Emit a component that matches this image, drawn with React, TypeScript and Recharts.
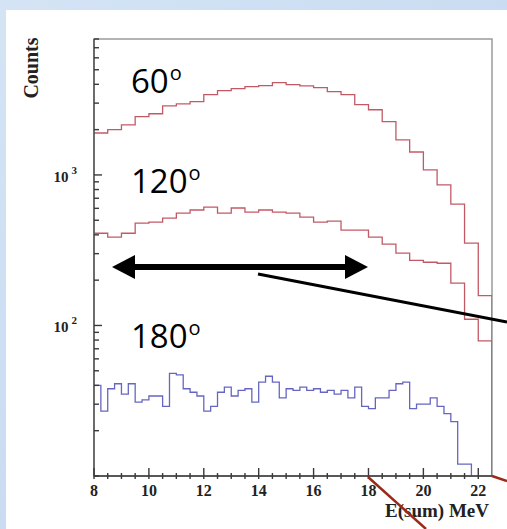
import { LineChart, Line, XAxis, YAxis, ReferenceArea } from "recharts";

// histogram bins (MeV)
const eStart = 8;
const redBinWidth = 0.5;
const blueBinWidth = 0.25;

// counts per bin
const counts60 = [
  1900, 2000, 2150, 2440, 2550, 2880, 2970, 3070, 3420, 3630, 3740, 3860, 3920, 4100, 3980,
  3900, 3800, 3575, 3415, 2930, 2710, 2260, 1710, 1420, 1080, 860, 640, 352, 158,
];
const counts120 = [
  410, 386, 410, 479, 486, 517, 558, 585, 612, 558, 603, 567, 585, 567, 558, 525, 486, 493, 430,
  430, 386, 347, 302, 271, 263, 259, 191, 110, 79,
];
const counts180 = [
  40, 27, 38, 41, 35, 41, 31, 32, 34, 34, 29, 48, 47, 38, 36, 34, 27, 29, 36, 39, 34, 37, 38, 31,
  42, 46, 42, 33, 38, 37, 39, 37, 38, 36, 37, 35, 37, 33, 39, 29, 28, 33, 33, 37, 41, 42, 28, 30,
  30, 33, 29, 26, 23, 12, 12,
];

const xTicks = [
  8, 8.5, 9, 9.5, 10, 10.5, 11, 11.5, 12, 12.5, 13, 13.5, 14, 14.5, 15, 15.5, 16, 16.5, 17, 17.5,
  18, 18.5, 19, 19.5, 20, 20.5, 21, 21.5, 22,
];
const xLabelled = [8, 10, 12, 14, 16, 18, 20, 22];
const yTicks = [
  10, 20, 30, 40, 50, 60, 70, 80, 90, 100, 200, 300, 400, 500, 600, 700, 800, 900, 1000, 2000,
  3000, 4000, 5000, 6000, 7000, 8000,
];
const yLabels: Record<number, string> = { 100: "2", 1000: "3" };

const yMin = 10;
const yMax = 8000;
const xMax = 22.5;

// turn bin contents into step points, closing the histogram down to the axis
function toSteps(counts: number[], width: number) {
  const pts = counts.map((v, i) => ({ x: eStart + i * width, v }));
  pts.push({ x: eStart + counts.length * width, v: yMin });
  return pts;
}

const data60 = toSteps(counts60, redBinWidth);
const data120 = toSteps(counts120, redBinWidth);
const data180 = toSteps(counts180, blueBinWidth);

const serif = "'Liberation Serif', 'Times New Roman', serif";
const sans = "'Open Sans', 'Noto Sans', sans-serif";
const axisColor = "#3a3a3a";

const XTick = (props: any) => {
  const x = Number(props.x);
  const y = Number(props.y);
  const v = props.payload.value as number;
  const major = xLabelled.includes(v);
  const up = major ? 8 : 3;
  return (
    <g>
      <rect x={x - 0.7} y={y - up} width={1.4} height={up + 3} fill={axisColor} />
      {major && (
        <text x={x} y={y + 20} textAnchor="middle" fontFamily={serif} fontWeight="bold" fontSize={16} fill="#222">
          {v}
        </text>
      )}
    </g>
  );
};

const YTick = (props: any) => {
  const x = Number(props.x);
  const y = Number(props.y);
  const v = props.payload.value as number;
  const exp = yLabels[v];
  const len = v === 100 || v === 1000 ? 8 : 5;
  return (
    <g>
      <rect x={x} y={y - 0.7} width={len} height={1.4} fill={axisColor} />
      {exp && (
        <text x={77} y={y + 7} textAnchor="end" fontFamily={serif} fontWeight="bold" fontSize={15} fill="#222">
          10
          <tspan dx={3} dy={-8} fontSize={11}>
            {exp}
          </tspan>
        </text>
      )}
    </g>
  );
};

export default function App() {
  return (
    <div
      style={{
        position: "absolute",
        left: 0,
        top: 0,
        width: 507,
        height: 529,
        background: "linear-gradient(135deg, #d4e4f5 0%, #c9dcf1 50%, #d8e7f6 100%)",
        overflow: "hidden",
      }}
    >
      <div style={{ position: "absolute", left: 6, top: 10, right: 0, bottom: 0, background: "#fff" }} />
      <div style={{ position: "absolute", left: 0, top: 0 }}>
        <LineChart width={507} height={529} margin={{ top: 39, right: 15, left: 0, bottom: 0 }}>
          <XAxis
            type="number"
            dataKey="x"
            domain={[eStart, xMax]}
            ticks={xTicks}
            interval={0}
            allowDataOverflow
            height={53}
            tickSize={0}
            tickMargin={0}
            tickLine={false}
            tick={<XTick />}
            axisLine={{ stroke: axisColor, strokeWidth: 1.5 }}
          />
          <YAxis
            type="number"
            scale="log"
            domain={[yMin, yMax]}
            ticks={yTicks}
            interval={0}
            allowDataOverflow
            width={94}
            tickSize={0}
            tickMargin={0}
            tickLine={false}
            tick={<YTick />}
            axisLine={{ stroke: "#555", strokeWidth: 1.5 }}
          />
          <ReferenceArea
            x1={eStart}
            x2={xMax}
            y1={yMin}
            y2={yMax}
            fill="none"
            stroke="#9a9a9a"
            strokeWidth={1.5}
            ifOverflow="visible"
          />
          <Line data={data60} dataKey="v" type="stepAfter" stroke="#c25a66" strokeWidth={1.3} dot={false} isAnimationActive={false} />
          <Line data={data120} dataKey="v" type="stepAfter" stroke="#c25a66" strokeWidth={1.3} dot={false} isAnimationActive={false} />
          <Line data={data180} dataKey="v" type="stepAfter" stroke="#6666c2" strokeWidth={1.3} dot={false} isAnimationActive={false} />
        </LineChart>
      </div>
      <svg width={507} height={529} style={{ position: "absolute", left: 0, top: 0, pointerEvents: "none" }}>
        <text
          x={31}
          y={68}
          transform="rotate(-90 31 68)"
          textAnchor="middle"
          dominantBaseline="central"
          fontFamily={serif}
          fontWeight="bold"
          fontSize={20}
          fill="#222"
        >
          Counts
        </text>
        <text x={489} y={517} textAnchor="end" fontFamily={serif} fontWeight="bold" fontSize={19} fill="#222">
          E(sum) MeV
        </text>
        <text x={131} y={93} fontFamily={sans} fontSize={33} fill="#000">
          60
          <tspan dx={1} dy={-13} fontSize={20}>o</tspan>
        </text>
        <text x={131} y={193} fontFamily={sans} fontSize={33} fill="#000">
          120
          <tspan dx={1} dy={-13} fontSize={20}>o</tspan>
        </text>
        <text x={131} y={348} fontFamily={sans} fontSize={33} fill="#000">
          180
          <tspan dx={1} dy={-13} fontSize={20}>o</tspan>
        </text>
        {/* double arrow */}
        <line x1={130} x2={350} y1={267} y2={267} stroke="#000" strokeWidth={6} />
        <polygon points="112,267 135,255 135,279" fill="#000" />
        <polygon points="368,267 345,255 345,279" fill="#000" />
        <line x1={258} y1={274} x2={507} y2={322} stroke="#000" strokeWidth={3} />
        {/* brown pointer lines */}
        <line x1={368} y1={477} x2={426} y2={529} stroke="#9b2a18" strokeWidth={2.5} />
        <line x1={492} y1={476} x2={507} y2={481} stroke="#9b2a18" strokeWidth={2.5} />
      </svg>
    </div>
  );
}
